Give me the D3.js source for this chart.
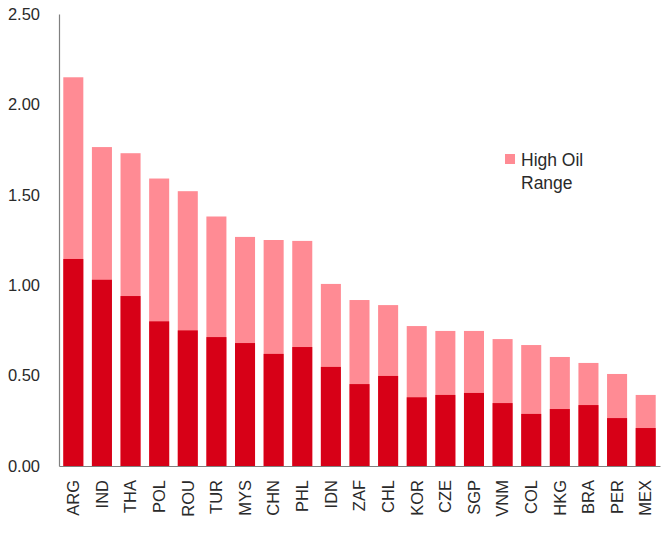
<!DOCTYPE html>
<html>
<head>
<meta charset="utf-8">
<script src="https://cdn.jsdelivr.net/npm/d3@7"></script>
<style>
  body { margin: 0; background: #fff; }
  text { font-family: "Liberation Sans", Arial, sans-serif; }
</style>
</head>
<body>
<svg id="chart"></svg>
<script>
var countries = ["ARG", "IND", "THA", "POL", "ROU", "TUR", "MYS", "CHN", "PHL", "IDN", "ZAF",
  "CHL", "KOR", "CZE", "SGP", "VNM", "COL", "HKG", "BRA", "PER", "MEX"];

// base (dark red) and top of the high oil range (pink)
var baseValues = [1.145, 1.03, 0.94, 0.80, 0.75, 0.713, 0.68, 0.62, 0.658, 0.548, 0.453,
  0.498, 0.38, 0.393, 0.404, 0.348, 0.288, 0.315, 0.337, 0.265, 0.21];
var highValues = [2.15, 1.764, 1.73, 1.59, 1.52, 1.38, 1.267, 1.25, 1.245, 1.007, 0.918,
  0.89, 0.774, 0.747, 0.747, 0.702, 0.669, 0.603, 0.57, 0.509, 0.393];

var yTicks = [0, 0.5, 1.0, 1.5, 2.0, 2.5];

var width = { svg: 668 };
var height = { svg: 533 };
var margin = { top: 14, right: 8, bottom: 67, left: 59 };

var svg = d3.select("#chart")
  .attr("width", width.svg)
  .attr("height", height.svg);

var x = d3.scaleBand()
  .domain(countries)
  .range([margin.left, width.svg - margin.right])
  .paddingInner(0.3)
  .paddingOuter(0.15);

var y = d3.scaleLinear()
  .domain([0, 2.5])
  .range([height.svg - margin.bottom, margin.top]);

// pink high oil range bars (full height), dark base drawn on top
svg.selectAll("rect.high")
  .data(countries)
  .enter()
  .append("rect")
  .attr("class", "high")
  .attr("x", (d) => x(d))
  .attr("width", x.bandwidth())
  .attr("y", (d, i) => y(highValues[i]))
  .attr("height", (d, i) => y(0) - y(highValues[i]))
  .attr("fill", "#ff8b94");

svg.selectAll("rect.base")
  .data(countries)
  .enter()
  .append("rect")
  .attr("class", "base")
  .attr("x", (d) => x(d))
  .attr("width", x.bandwidth())
  .attr("y", (d, i) => y(baseValues[i]))
  .attr("height", (d, i) => y(0) - y(baseValues[i]))
  .attr("fill", "#d70017");

// y axis
var yAxis = svg.append("g")
  .attr("transform", `translate(${margin.left},0)`)
  .call(d3.axisLeft(y).tickValues(yTicks).tickFormat(d3.format(".2f")).tickSize(0).tickPadding(19));
yAxis.select(".domain").attr("stroke", "#808080").attr("stroke-width", 1.2);
yAxis.selectAll("text").attr("font-size", 16.5).attr("fill", "#2a2a2a")
  .attr("font-family", "'Liberation Sans', Arial, sans-serif");

// x axis
var xAxis = svg.append("g")
  .attr("transform", `translate(0,${y(0)})`)
  .call(d3.axisBottom(x).tickSize(0).tickPadding(0));
xAxis.select(".domain").attr("stroke", "#808080").attr("stroke-width", 1.2);
xAxis.selectAll("text")
  .attr("font-size", 16.5)
  .attr("fill", "#2a2a2a")
  .attr("font-family", "'Liberation Sans', Arial, sans-serif")
  .attr("transform", "rotate(-90)")
  .attr("text-anchor", "end")
  .attr("dy", "0.35em")
  .attr("x", -14)
  .attr("y", 0);

// legend
var legend = svg.append("g").attr("transform", "translate(505,154)");
legend.append("rect")
  .attr("width", 10)
  .attr("height", 10)
  .attr("fill", "#ff8b94");
legend.append("text")
  .attr("x", 16)
  .attr("y", 12)
  .attr("font-size", 17.5)
  .attr("fill", "#2a2a2a")
  .text("High Oil");
legend.append("text")
  .attr("x", 16)
  .attr("y", 35)
  .attr("font-size", 17.5)
  .attr("fill", "#2a2a2a")
  .text("Range");
</script>
</body>
</html>
